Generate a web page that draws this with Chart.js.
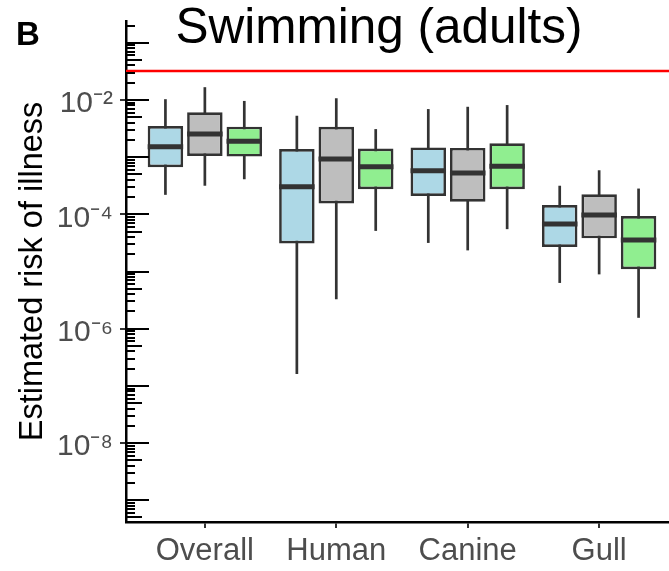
<!DOCTYPE html>
<html lang="en">
<head>
    <meta charset="UTF-8">
    <title>Swimming (adults)</title>
    <script src="https://cdn.jsdelivr.net/npm/chart.js"></script>
    <style>
        body {
            margin: 0;
            padding: 0;
            background-color: #fff;
            overflow: hidden;
        }
        canvas {
            display: block;
        }
    </style>
</head>
<body>
    <canvas id="riskChart" width="680" height="571"></canvas>

    <script>
        // categories on the x axis and their positions
        const categories = ['Overall', 'Human', 'Canine', 'Gull'];
        const categoryPositions = [1, 2, 3, 4];

        // one row per box colour (blue, grey, green), one column per category
        const upperWhisker = [
            [1.03e-2, 5.31e-3, 6.92e-3, 3.16e-4],
            [1.67e-2, 1.07e-2, 7.59e-3, 5.89e-4],
            [9.6e-3, 3.09e-3, 8.13e-3, 2.82e-4]
        ];
        const upperHinge = [
            [3.51e-3, 1.38e-3, 1.48e-3, 1.45e-4],
            [6.10e-3, 3.39e-3, 1.45e-3, 2.24e-4],
            [3.41e-3, 1.41e-3, 1.74e-3, 9.33e-5]
        ];
        const medians = [
            [1.52e-3, 3.02e-4, 5.75e-4, 6.76e-5],
            [2.54e-3, 9.3e-4, 5.25e-4, 9.77e-5],
            [1.90e-3, 6.76e-4, 6.92e-4, 3.55e-5]
        ];
        const lowerHinge = [
            [6.65e-4, 3.09e-5, 2.09e-4, 2.69e-5],
            [1.05e-3, 1.55e-4, 1.66e-4, 3.80e-5],
            [1.02e-3, 2.75e-4, 2.75e-4, 1.10e-5]
        ];
        const lowerWhisker = [
            [2.19e-4, 1.62e-7, 3.16e-5, 6.31e-6],
            [3.16e-4, 3.27e-6, 2.34e-5, 8.91e-6],
            [4.10e-4, 5.13e-5, 5.50e-5, 1.55e-6]
        ];

        const threshold = 0.032;

        const yTickValues = [1e-8, 1e-6, 1e-4, 1e-2];
        const yTickLabels = ['10⁻⁸', '10⁻⁶', '10⁻⁴', '10⁻²'];

        const boxColors = ['#add8e6', '#bebebe', '#90ee90'];
        const stackIds = ['a', 'b', 'c'];

        const xMin = 0.4, xMax = 4.6;
        const yMin = Math.pow(10, -9.38), yMax = Math.pow(10, -0.62);

        Chart.defaults.font.family = "'Liberation Sans', Arial, sans-serif";

        const datasets = [];
        boxColors.forEach((color, s) => {
            datasets.push({
                label: 'whisker ' + s,
                stack: stackIds[s],
                order: 3,
                data: categoryPositions.map((x, i) => ({ x: x, y: [lowerWhisker[s][i], upperWhisker[s][i]] })),
                backgroundColor: '#333333',
                borderWidth: 0,
                maxBarThickness: 2.7,
                barPercentage: 0.9,
                categoryPercentage: 0.9
            });
        });
        boxColors.forEach((color, s) => {
            datasets.push({
                label: 'box ' + s,
                stack: stackIds[s],
                order: 2,
                data: categoryPositions.map((x, i) => ({ x: x, y: [lowerHinge[s][i], upperHinge[s][i]] })),
                backgroundColor: color,
                borderColor: '#333333',
                borderWidth: 2.7,
                borderSkipped: false,
                barPercentage: 0.9,
                categoryPercentage: 0.9
            });
        });
        datasets.push({
            type: 'line',
            label: 'threshold',
            order: 1,
            data: [{ x: xMin, y: threshold }, { x: xMax, y: threshold }],
            borderColor: '#ff0000',
            borderWidth: 2.5,
            pointRadius: 0
        });

        // median bars, log ticks, title and panel letter
        const extras = {
            id: 'extras',
            afterDatasetsDraw(chart) {
                const ctx = chart.ctx;
                const y = chart.scales.y;
                ctx.save();
                ctx.strokeStyle = '#333333';
                ctx.lineWidth = 5;
                for (let s = 0; s < 3; s++) {
                    const meta = chart.getDatasetMeta(3 + s);
                    meta.data.forEach((bar, i) => {
                        const py = y.getPixelForValue(medians[s][i]);
                        ctx.beginPath();
                        ctx.moveTo(bar.x - bar.width / 2, py);
                        ctx.lineTo(bar.x + bar.width / 2, py);
                        ctx.stroke();
                    });
                }
                ctx.restore();
            },
            afterDraw(chart) {
                const ctx = chart.ctx;
                const y = chart.scales.y;
                const left = chart.chartArea.left;
                ctx.save();
                ctx.strokeStyle = '#000';
                ctx.lineWidth = 2;
                for (let d = -10; d <= 0; d++) {
                    for (let k = 1; k <= 9; k++) {
                        const v = k * Math.pow(10, d);
                        if (v < yMin || v > yMax) continue;
                        const py = Math.round(y.getPixelForValue(v));
                        const len = k === 1 ? 23 : (k === 5 ? 16 : 9);
                        ctx.beginPath();
                        ctx.moveTo(left, py);
                        ctx.lineTo(left + len, py);
                        ctx.stroke();
                    }
                }
                ctx.fillStyle = '#000';
                ctx.textBaseline = 'alphabetic';
                ctx.textAlign = 'center';
                ctx.font = "49.5px 'Liberation Sans', Arial, sans-serif";
                ctx.fillText('Swimming (adults)', 379, 43);
                ctx.textAlign = 'left';
                ctx.font = "bold 33px 'Liberation Sans', Arial, sans-serif";
                ctx.fillText('B', 16, 45);
                ctx.restore();
            }
        };

        new Chart(document.getElementById('riskChart'), {
            type: 'bar',
            data: { datasets: datasets },
            options: {
                responsive: false,
                devicePixelRatio: 1,
                animation: false,
                layout: { padding: { left: 0, top: 21, right: 2, bottom: 0 } },
                plugins: {
                    legend: { display: false },
                    tooltip: { enabled: false }
                },
                scales: {
                    x: {
                        type: 'linear',
                        min: xMin,
                        max: xMax,
                        offset: false,
                        afterBuildTicks: (scale) => {
                            scale.ticks = categoryPositions.map(v => ({ value: v }));
                        },
                        afterFit: (scale) => {
                            scale.height = 49;
                            scale.paddingLeft = 0;
                            scale.paddingRight = 0;
                        },
                        grid: {
                            offset: false,
                            drawOnChartArea: false,
                            drawTicks: true,
                            tickLength: 6,
                            color: '#333333',
                            lineWidth: 2
                        },
                        border: { display: true, color: '#000', width: 2.5 },
                        ticks: {
                            color: '#4d4d4d',
                            font: { size: 31 },
                            padding: 5,
                            maxRotation: 0,
                            callback: (value, index) => categories[index]
                        }
                    },
                    y: {
                        type: 'logarithmic',
                        min: yMin,
                        max: yMax,
                        stacked: false,
                        afterBuildTicks: (scale) => {
                            scale.ticks = yTickValues.map(v => ({ value: v }));
                        },
                        afterFit: (scale) => {
                            scale.width = 126;
                            scale.paddingTop = 0;
                            scale.paddingBottom = 0;
                        },
                        grid: {
                            drawOnChartArea: false,
                            drawTicks: true,
                            tickLength: 6,
                            color: '#333333',
                            lineWidth: 2
                        },
                        border: { display: true, color: '#000', width: 2.5 },
                        ticks: {
                            color: '#4d4d4d',
                            font: { size: 30 },
                            padding: 7,
                            labelOffset: 4,
                            callback: (value, index) => yTickLabels[index]
                        },
                        title: {
                            display: true,
                            text: 'Estimated risk of illness',
                            color: '#000',
                            font: { size: 32.5 },
                            padding: { top: 14, bottom: 0 }
                        }
                    }
                }
            },
            plugins: [extras]
        });
    </script>
</body>
</html>
